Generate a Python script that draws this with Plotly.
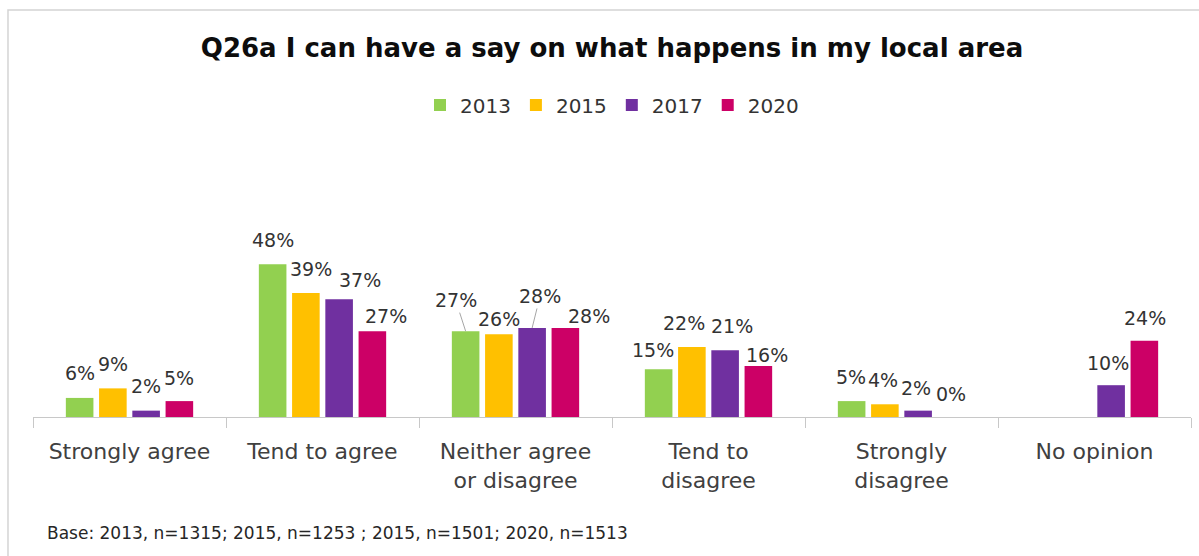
import plotly.graph_objects as go

# Survey responses (% of respondents) per answer option and survey year
categories = ["Strongly agree", "Tend to agree", "Neither agree<br>or disagree",
              "Tend to<br>disagree", "Strongly<br>disagree", "No opinion"]
years = ["2013", "2015", "2017", "2020"]
v2013 = [6, 48, 27, 15, 5, None]
v2015 = [9, 39, 26, 22, 4, None]
v2017 = [2, 37, 28, 21, 2, 10]
v2020 = [5, 27, 28, 16, 0, 24]

series = [v2013, v2015, v2017, v2020]
colors = ["#92D050", "#FFC000", "#7030A0", "#CC0066"]

# Pixel nudges (dx, dy) for each data label so crowded labels don't collide
label_nudges = [
    [(0, 25), (0, 24), (-10, 31), (-6, 19), (-1, 24), None],
    [(0, 24), (5, 24), (0, 15), (-8, 24), (-2, 24), None],
    [(0, 25), (21, 19), (8, 32), (7, 24), (-2, 23), (-3, 22)],
    [(0, 23), (14, 15), (24, 12), (9, 11), (0, 23), (1, 23)],
]
# labels that get a leader line back to their bar: (series index, category index)
leader_labels = {(0, 2), (2, 2)}

FONT = "DejaVu Sans"
BARGAP = 0.311
BARGROUPGAP = 0.17

fig = go.Figure()
for name, vals, col in zip(years, series, colors):
    fig.add_trace(go.Bar(
        x=categories, y=vals, name=name,
        marker=dict(color=col, line=dict(width=0)),
        hoverinfo="x+y+name",
    ))

# data labels placed above each bar
n = len(series)
slot = (1 - BARGAP) / n
annotations = []
for si, vals in enumerate(series):
    offset = -(1 - BARGAP) / 2 + slot * (si + 0.5)
    for ci, v in enumerate(vals):
        if v is None:
            continue
        dx, dy = label_nudges[si][ci]
        common = dict(
            x=ci + offset, y=v, xref="x", yref="y",
            text=f"{v}%",
            font=dict(family=FONT, size=19, color="#333333"),
        )
        if (si, ci) in leader_labels:
            annotations.append(dict(
                **common, showarrow=True, ax=dx, ay=-dy,
                arrowhead=0, arrowwidth=1, arrowcolor="#a6a6a6", standoff=0,
            ))
        else:
            annotations.append(dict(
                **common, showarrow=False, xshift=dx, yshift=dy,
                xanchor="center", yanchor="middle",
            ))

annotations.append(dict(
    text="Base: 2013, n=1315; 2015, n=1253 ; 2015, n=1501; 2020, n=1513",
    xref="paper", yref="paper", x=0.0104, y=-0.73,
    xanchor="left", yanchor="middle", showarrow=False,
    font=dict(family=FONT, size=17, color="#262626"),
))

fig.update_layout(
    width=1199, height=556,
    margin=dict(l=33, r=8, t=258, b=139),
    paper_bgcolor="white", plot_bgcolor="white",
    barmode="group", bargap=BARGAP, bargroupgap=BARGROUPGAP,
    title=dict(
        text="<b>Q26a I can have a say on what happens in my local area</b>",
        x=0.5, xref="paper", xanchor="center",
        y=1 - 48 / 556, yref="container", yanchor="middle",
        font=dict(family=FONT, size=26, color="#0d0d0d"),
    ),
    legend=dict(
        orientation="h", x=0.5, xanchor="center",
        y=1 - 105 / 556, yref="container", yanchor="middle",
        font=dict(family=FONT, size=20, color="#333333"),
        itemwidth=30, traceorder="normal",
    ),
    xaxis=dict(
        type="category", showline=True, linecolor="#c8c8c8", linewidth=1,
        ticks="outside", tickson="boundaries", ticklen=10, tickcolor="#c8c8c8",
        tickfont=dict(family=FONT, size=22, color="#404040"),
        ticklabelstandoff=15,
        showgrid=False, zeroline=False,
    ),
    yaxis=dict(range=[0, 50], visible=False, showgrid=False, zeroline=False),
    annotations=annotations,
    shapes=[dict(
        type="rect", xref="paper", yref="paper",
        x0=-0.0216, x1=1.02, y0=-1.2, y1=2.56,
        line=dict(color="#d4d4d4", width=1.5), fillcolor="rgba(0,0,0,0)",
        layer="below",
    )],
)

fig.write_html("out.html")
